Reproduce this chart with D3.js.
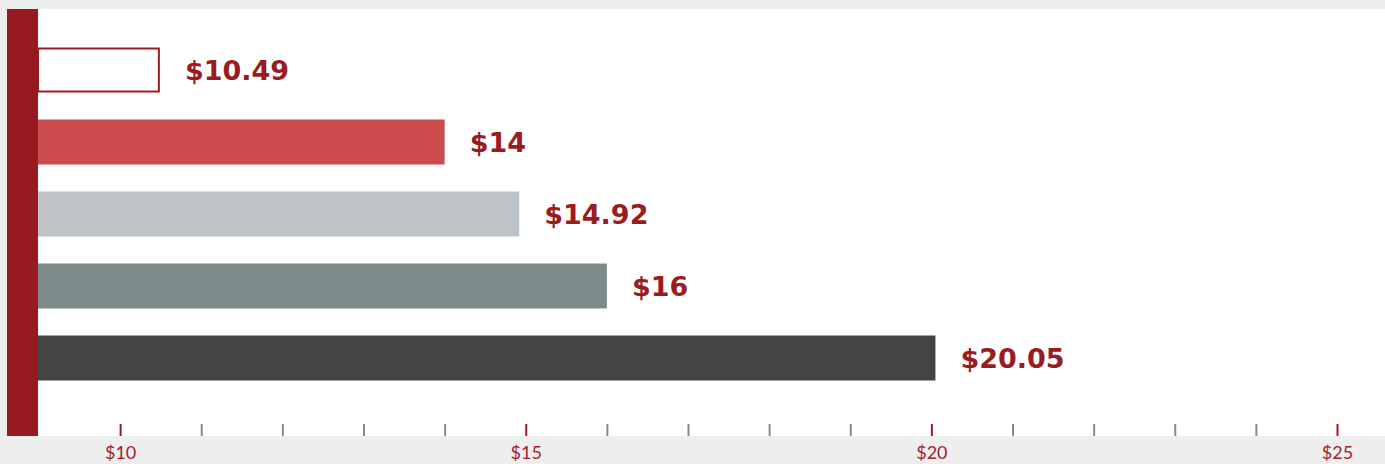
<!DOCTYPE html>
<html><head><meta charset="utf-8">
<script src="https://cdn.jsdelivr.net/npm/d3@7"></script>
<style>body{margin:0;background:#eeeeee;}svg{display:block;}</style>
</head><body><svg id="c" width="1385" height="464"></svg>
<script>
const categories = ["A","B","C","D","E"];
const values = [10.49, 14, 14.92, 16, 20.05];
const labels = ["$10.49","$14","$14.92","$16","$20.05"];
const tickValues = d3.range(10, 26, 1);
const tickLabels = {10:"$10",15:"$15",20:"$20",25:"$25"};
const fills = ["#ffffff","#cc4b4c","#bec3c7","#7f8c8c","#444444"];
const red = "#9b1c20";

const svg = d3.select("#c");
svg.append("rect").attr("x",0).attr("y",0).attr("width",1385).attr("height",464).attr("fill","#eeeeee");
svg.append("rect").attr("x",7).attr("y",9).attr("width",1378).attr("height",427).attr("fill","#ffffff");
svg.append("rect").attr("x",7).attr("y",9).attr("width",31).attr("height",427).attr("fill","#961a1f");

const x = d3.scaleLinear().domain([9,25]).range([39,1337]);
const y = d3.scaleBand().domain(categories).range([34,394]).paddingInner(0.375).paddingOuter(0.1875);

const g = svg.append("g");
g.selectAll("rect.bar").data(categories).join("rect")
  .attr("class","bar")
  .attr("x", 38)
  .attr("y", (d,i)=> i===0 ? y(d)+1 : y(d))
  .attr("width", (d,i)=> x(values[i]) - 38 - (i===0?1:0))
  .attr("height", (d,i)=> i===0 ? y.bandwidth()-2 : y.bandwidth())
  .attr("fill", (d,i)=>fills[i])
  .attr("stroke", (d,i)=> i===0 ? red : "none")
  .attr("stroke-width", 2);

g.selectAll("text.lbl").data(categories).join("text")
  .attr("class","lbl")
  .attr("x",(d,i)=>x(values[i])+25)
  .attr("y",(d)=>y(d)+y.bandwidth()/2)
  .attr("dy","0.36em")
  .attr("fill",red)
  .attr("font-family","DejaVu Sans")
  .attr("font-weight","bold")
  .attr("font-size","27px")
  .text((d,i)=>labels[i]);

const axis = d3.axisBottom(x).tickValues(tickValues).tickSize(12).tickPadding(10)
  .tickFormat(v => tickLabels[v] || "");
const ag = svg.append("g").attr("transform","translate(0,424)").call(axis);
ag.select(".domain").remove();
ag.selectAll(".tick line")
  .attr("stroke", v => tickLabels[v] ? red : "#7f8c8d")
  .attr("stroke-width", 2);
ag.selectAll(".tick text")
  .attr("fill", "#a3222a")
  .attr("font-family","Lato")
  .attr("font-size","18px");
</script></body></html>
